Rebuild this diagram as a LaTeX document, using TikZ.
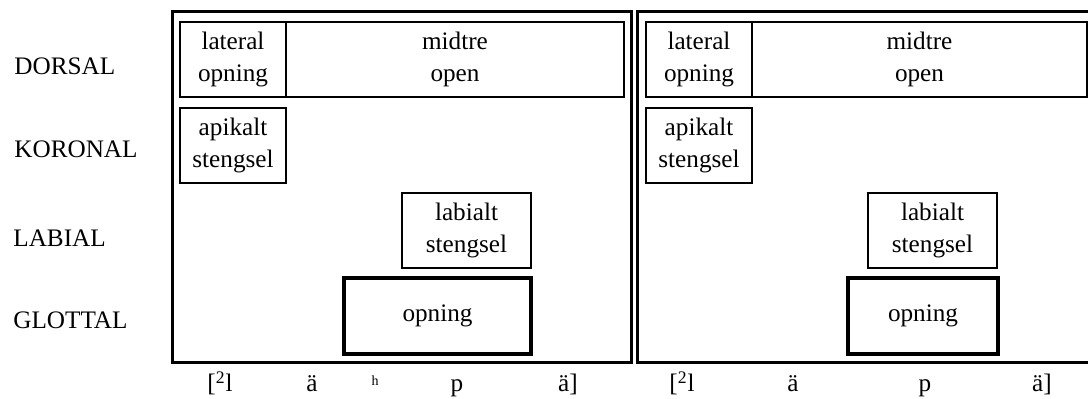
\documentclass[tikz,border=0pt]{standalone}
\usepackage{fontspec}
\setmainfont{Liberation Serif}
\usetikzlibrary{positioning}
\tikzset{
  gestfont/.style={font=\fontsize{12.6}{16}\selectfont},
  panel/.style={draw=black, line width=1.5pt},
  cell/.style={rectangle, draw=black, line width=0.75pt, align=center, inner sep=0pt, minimum height=37.5pt},
  glotcell/.style={rectangle, draw=black, line width=2.2pt, align=center, inner sep=0pt, minimum height=38pt},
  tier/.style={anchor=base west, inner sep=0pt},
  seg/.style={anchor=base, inner sep=0pt},
}

\begin{document}
\begin{tikzpicture}[x=0.5pt, y=-0.5pt, gestfont]
  \clip (0,0) rectangle (1088,399);
  % tier names
  \node[tier] (dors) at (14,75)  {DORSAL};
  \node[tier] (kor)  at (14,158) {KORONAL};
  \node[tier] (lab)  at (13,247) {LABIAL};
  \node[tier] (glot) at (13,329) {GLOTTAL};
  % left panel: [2lähpä]
  \draw[panel] (172,12) rectangle (631,363);
  \node[cell, minimum width=53pt] (latL) at (233,59.5) {lateral\\opning};
  \node[cell, minimum width=169pt] (midL) at (455,59.5) {midtre\\open};
  \node[cell, minimum width=53pt] (apL) at (233,145.5) {apikalt\\stengsel};
  \node[cell, minimum width=64.5pt] (labL) at (466.5,230.5) {labialt\\stengsel};
  \node[glotcell, minimum width=93.5pt] (opL) at (437.5,316) {opning};
  \node[seg] (s1L) at (220,392) {[\textsuperscript{2}l};
  \node[seg] (s2L) at (312,392) {ä};
  \node[seg, font=\fontsize{7}{8}\selectfont] (s3L) at (375,386) {h};
  \node[seg] (s4L) at (457,392) {p};
  \node[seg] (s5L) at (568,392) {ä]};
  % right panel: [2läpä]
  \draw[panel] (637,12) rectangle (1110,363);
  \node[cell, minimum width=53pt] (latR) at (699,59.5) {lateral\\opning};
  \node[cell, minimum width=167.5pt] (midR) at (919.5,59.5) {midtre\\open};
  \node[cell, minimum width=53pt] (apR) at (699,145.5) {apikalt\\stengsel};
  \node[cell, minimum width=64.5pt] (labR) at (932.5,230.5) {labialt\\stengsel};
  \node[glotcell, minimum width=75pt] (opR) at (923,316) {opning};
  \node[seg] (s1R) at (682,392) {[\textsuperscript{2}l};
  \node[seg] (s2R) at (793,392) {ä};
  \node[seg] (s4R) at (925,392) {p};
  \node[seg] (s5R) at (1042,392) {ä]};
\end{tikzpicture}
\end{document}
